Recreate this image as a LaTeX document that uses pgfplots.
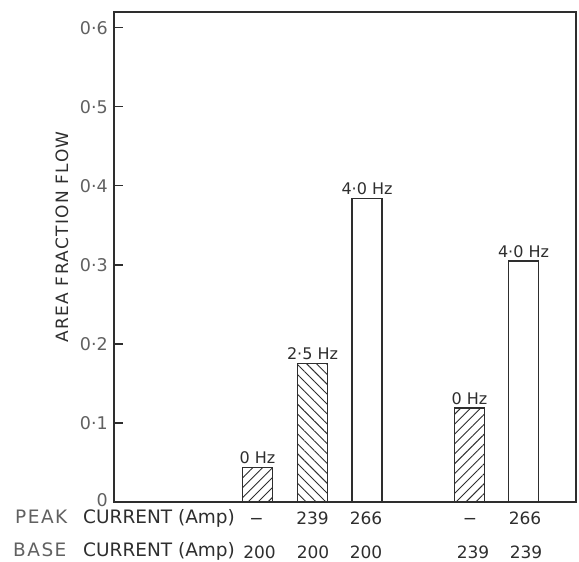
\documentclass[border=0pt]{standalone}
\usepackage{fontspec}
\setmainfont{DejaVu Sans}
\usepackage{pgfplots}
\pgfplotsset{compat=1.18}
\usetikzlibrary{patterns.meta}
\definecolor{ink}{gray}{0.18}
\definecolor{inklight}{gray}{0.38}
\begin{document}
\begin{tikzpicture}[x=1pt,y=1pt]
\useasboundingbox (0,0) rectangle (579,562);
\begin{axis}[
  at={(114pt,60pt)}, anchor=south west,
  scale only axis, width=462pt, height=490pt,
  xmin=114, xmax=576, ymin=0, ymax=0.62,
  axis line style={line width=1.4pt, draw=ink},
  tick pos=left,
  ytick={0,0.1,0.2,0.3,0.4,0.5,0.6},
  yticklabels={\raisebox{4pt}{0},0·1,0·2,0·3,0·4,0·5,0·6},
  tick align=inside, major tick length=9pt,
  ytick style={line width=1.2pt, draw=ink},
  yticklabel style={font=\fontsize{17.5}{20}\selectfont, text=inklight, inner sep=0pt, xshift=-6pt},
  xtick={256.5,312.5,366,470,525},
  xticklabels={−,239,266,−,266},
  xtick style={draw=none},
  xticklabel style={anchor=base, inner sep=0pt, yshift=-14pt, text=ink,
     font=\fontsize{17}{20}\selectfont},
  extra x ticks={259.5,313,366,473,526},
  extra x tick labels={200,200,200,239,239},
  extra x tick style={xtick style={draw=none}, xticklabel style={yshift=-33.5pt}},
  ybar, bar width=30, bar shift=0pt,
  every node near coord/.append style={font=\fontsize{16}{18}\selectfont, text=ink, inner sep=3pt},
  clip=false,
]
\addplot[bar shift=0pt, draw=ink, line width=1.3pt, pattern={Lines[angle=45,distance=7pt,line width=0.9pt]}, pattern color=ink, nodes near coords={0 Hz}] coordinates {(257.5,0.044)};
\addplot[bar shift=0pt, draw=ink, line width=1.3pt, pattern={Lines[angle=-45,distance=7pt,line width=0.9pt]}, pattern color=ink, nodes near coords={2·5 Hz}] coordinates {(312.5,0.175)};
\addplot[bar shift=0pt, draw=ink, line width=1.3pt, fill=white, nodes near coords={4·0 Hz}] coordinates {(367,0.384)};
\addplot[bar shift=0pt, draw=ink, line width=1.3pt, pattern={Lines[angle=45,distance=7pt,line width=0.9pt]}, pattern color=ink, nodes near coords={0 Hz}] coordinates {(469.5,0.119)};
\addplot[bar shift=0pt, draw=ink, line width=1.3pt, fill=white, nodes near coords={4·0 Hz}] coordinates {(523.5,0.305)};
\end{axis}
\node[rotate=90, font=\fontsize{17}{19}\selectfont\addfontfeature{LetterSpace=8}, text=ink] at (62,325) {AREA FRACTION FLOW};
\node[anchor=base west, inner sep=0pt, font=\fontsize{18.5}{20}\selectfont\addfontfeature{LetterSpace=8}, text=inklight] at (15,38.5) {PEAK};
\node[anchor=base west, inner sep=0pt, font=\fontsize{18.5}{20}\selectfont, text=ink] at (83,38.5) {CURRENT (Amp)};
\node[anchor=base west, inner sep=0pt, font=\fontsize{18.5}{20}\selectfont\addfontfeature{LetterSpace=8}, text=inklight] at (13,5) {BASE};
\node[anchor=base west, inner sep=0pt, font=\fontsize{18.5}{20}\selectfont, text=ink] at (83,5) {CURRENT (Amp)};
\end{tikzpicture}
\end{document}
